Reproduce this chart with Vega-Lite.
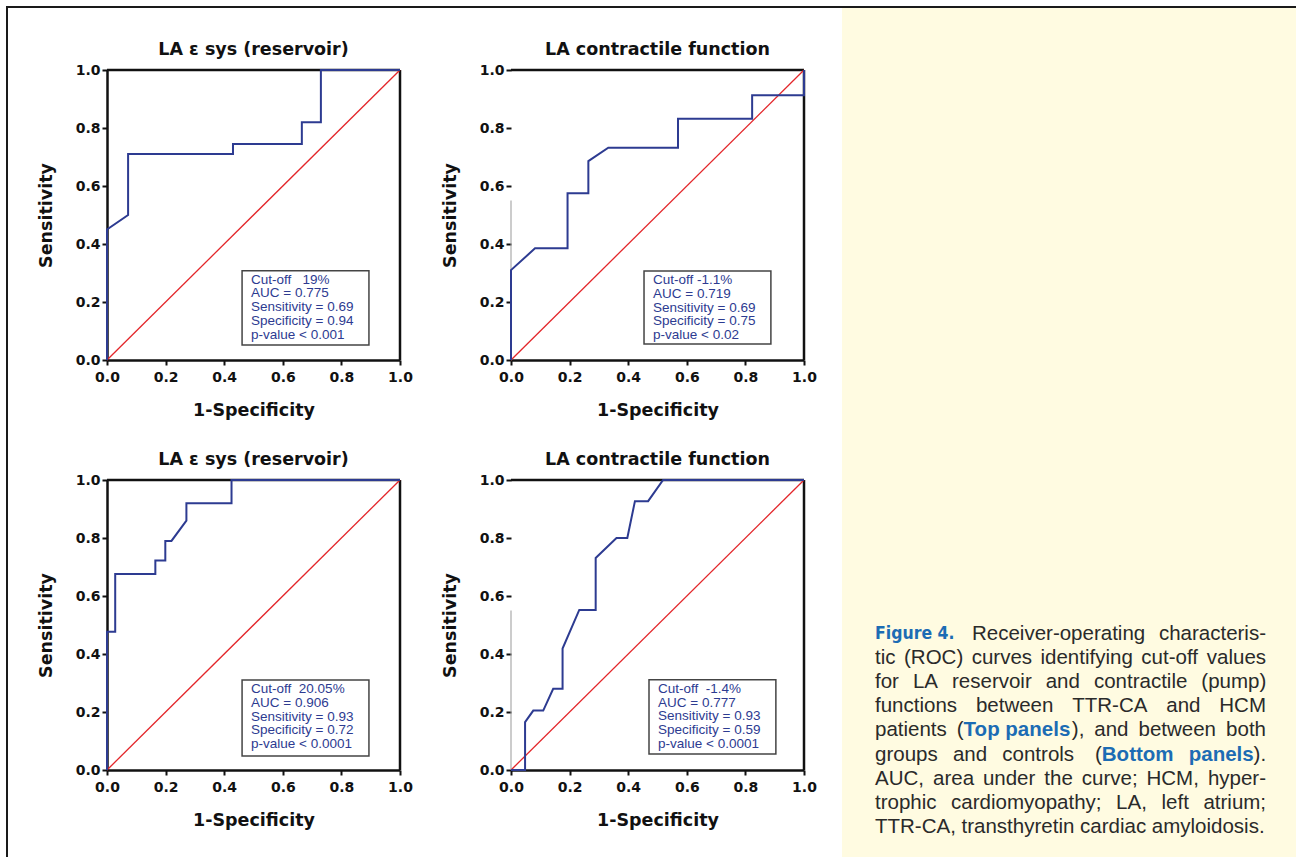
{
  "$schema": "https://vega.github.io/schema/vega-lite/v6.json",
  "padding": {"left": 6, "top": 6, "right": 0, "bottom": 0},
  "background": "white",
  "data": {"values": []},
  "datasets": {
    "roc1": [{"x":0,"y":0},{"x":0,"y":0.45},{"x":0.072,"y":0.5},{"x":0.072,"y":0.71},{"x":0.43,"y":0.71},{"x":0.43,"y":0.745},{"x":0.665,"y":0.745},{"x":0.665,"y":0.82},{"x":0.73,"y":0.82},{"x":0.73,"y":1},{"x":1,"y":1}],
    "roc2": [{"x":0,"y":0},{"x":0,"y":0.31},{"x":0.082,"y":0.385},{"x":0.193,"y":0.385},{"x":0.193,"y":0.575},{"x":0.264,"y":0.575},{"x":0.264,"y":0.686},{"x":0.332,"y":0.732},{"x":0.57,"y":0.732},{"x":0.57,"y":0.832},{"x":0.823,"y":0.832},{"x":0.823,"y":0.913},{"x":1,"y":0.913},{"x":1,"y":1}],
    "roc3": [{"x":0,"y":0},{"x":0,"y":0.477},{"x":0.028,"y":0.477},{"x":0.028,"y":0.676},{"x":0.165,"y":0.676},{"x":0.165,"y":0.722},{"x":0.199,"y":0.722},{"x":0.199,"y":0.79},{"x":0.22,"y":0.79},{"x":0.271,"y":0.86},{"x":0.271,"y":0.92},{"x":0.425,"y":0.92},{"x":0.425,"y":1},{"x":1,"y":1}],
    "roc4": [{"x":0,"y":0},{"x":0.048,"y":0},{"x":0.048,"y":0.165},{"x":0.076,"y":0.205},{"x":0.11,"y":0.205},{"x":0.144,"y":0.28},{"x":0.176,"y":0.28},{"x":0.176,"y":0.419},{"x":0.233,"y":0.552},{"x":0.289,"y":0.552},{"x":0.289,"y":0.731},{"x":0.36,"y":0.8},{"x":0.397,"y":0.8},{"x":0.423,"y":0.927},{"x":0.468,"y":0.927},{"x":0.519,"y":1},{"x":1,"y":1}],
    "caption": [
      {"line":1,"k":"fig","text":"Figure 4."},
      {"line":1,"k":"l1b","text":"Receiver-operating"},
      {"line":1,"k":"l1c","text":"characteris-"},
      {"line":2,"k":"s0","text":"tic"},
      {"line":2,"k":"l2b","text":"(ROC)"},
      {"line":2,"k":"l2c","text":"curves"},
      {"line":2,"k":"l2d","text":"identifying"},
      {"line":2,"k":"l2e","text":"cut-off"},
      {"line":2,"k":"l2f","text":"values"},
      {"line":3,"k":"s0","text":"for"},
      {"line":3,"k":"l3b","text":"LA"},
      {"line":3,"k":"l3c","text":"reservoir"},
      {"line":3,"k":"l3d","text":"and"},
      {"line":3,"k":"l3e","text":"contractile"},
      {"line":3,"k":"l3f","text":"(pump)"},
      {"line":4,"k":"s0","text":"functions"},
      {"line":4,"k":"l4b","text":"between"},
      {"line":4,"k":"l4c","text":"TTR-CA"},
      {"line":4,"k":"l4d","text":"and"},
      {"line":4,"k":"l4e","text":"HCM"},
      {"line":5,"k":"s0","text":"patients"},
      {"line":5,"k":"l5b","text":"("},
      {"line":5,"k":"l5c","text":"Top panels"},
      {"line":5,"k":"l5d","text":"),"},
      {"line":5,"k":"l5e","text":"and"},
      {"line":5,"k":"l5f","text":"between"},
      {"line":5,"k":"l5g","text":"both"},
      {"line":6,"k":"s0","text":"groups"},
      {"line":6,"k":"l6b","text":"and"},
      {"line":6,"k":"l6c","text":"controls"},
      {"line":6,"k":"l6d","text":"("},
      {"line":6,"k":"l6e","text":"Bottom"},
      {"line":6,"k":"l6f","text":"panels"},
      {"line":6,"k":"l6g","text":")."},
      {"line":7,"k":"s0","text":"AUC,"},
      {"line":7,"k":"l7b","text":"area"},
      {"line":7,"k":"l7c","text":"under"},
      {"line":7,"k":"l7d","text":"the"},
      {"line":7,"k":"l7e","text":"curve;"},
      {"line":7,"k":"l7f","text":"HCM,"},
      {"line":7,"k":"l7g","text":"hyper-"},
      {"line":8,"k":"s0","text":"trophic"},
      {"line":8,"k":"l8b","text":"cardiomyopathy;"},
      {"line":8,"k":"l8c","text":"LA,"},
      {"line":8,"k":"l8d","text":"left"},
      {"line":8,"k":"l8e","text":"atrium;"},
      {"line":9,"k":"s0","text":"TTR-CA, transthyretin cardiac amyloidosis."}
    ]
  },
  "columns": 7,
  "spacing": 0,
  "bounds": "flush",
  "align": "each",
  "concat": [
    {"width":2,"height":2,"view":{"fill":"#1a1a1a"},"mark":"text","encoding":{"text":{"value":""}}},
    {"width":99,"height":2,"view":{"fill":"#1a1a1a"},"mark":"text","encoding":{"text":{"value":""}}},
    {"width":293,"height":2,"view":{"fill":"#1a1a1a"},"mark":"text","encoding":{"text":{"value":""}}},
    {"width":111,"height":2,"view":{"fill":"#1a1a1a"},"mark":"text","encoding":{"text":{"value":""}}},
    {"width":293,"height":2,"view":{"fill":"#1a1a1a"},"mark":"text","encoding":{"text":{"value":""}}},
    {"width":38,"height":2,"view":{"fill":"#1a1a1a"},"mark":"text","encoding":{"text":{"value":""}}},
    {"width":454,"height":2,"view":{"fill":"#1a1a1a"},"mark":"text","encoding":{"text":{"value":""}}},

    {"width":2,"height":62,"view":{"fill":"#1a1a1a"},"mark":"text","encoding":{"text":{"value":""}}},
    {"width":1,"height":1,"mark":"text","encoding":{"text":{"value":""}}},
    {"width":1,"height":1,"mark":"text","encoding":{"text":{"value":""}}},
    {"width":1,"height":1,"mark":"text","encoding":{"text":{"value":""}}},
    {"width":1,"height":1,"mark":"text","encoding":{"text":{"value":""}}},
    {"width":1,"height":1,"mark":"text","encoding":{"text":{"value":""}}},
    {"width":454,"height":62,"view":{"fill":"#fffbe1"},"mark":"text","encoding":{"text":{"value":""}}},

    {"width":2,"height":290,"view":{"fill":"#1a1a1a"},"mark":"text","encoding":{"text":{"value":""}}},
    {"width":1,"height":1,"mark":"text","encoding":{"text":{"value":""}}},
    {
      "width":293,"height":290,
      "title":"LA ε sys (reservoir)",
      "data":{"name":"roc1"},
      "layer":[
        {"data":{"values":[{}]},"mark":{"type":"rule","color":"#111","strokeWidth":2.5},"encoding":{"x":{"datum":0},"x2":{"datum":1},"y":{"datum":1}}},
        {"data":{"values":[{}]},"mark":{"type":"rule","color":"#111","strokeWidth":2.5},"encoding":{"x":{"datum":1},"y":{"datum":0},"y2":{"datum":1}}},
        {"data":{"values":[{}]},"mark":{"type":"rule","color":"#e3262a","strokeWidth":1.3},"encoding":{"x":{"datum":0},"y":{"datum":0},"x2":{"datum":1},"y2":{"datum":1}}},
        {"data":{"values":[{}]},"mark":{"type":"rect","fill":"white","stroke":"#444","strokeWidth":1.5},"encoding":{"x":{"datum":0.461},"x2":{"datum":0.894},"y":{"datum":0.052},"y2":{"datum":0.308}}},
        {"data":{"values":[{}]},"mark":{"type":"text","align":"left","baseline":"top","dx":9,"dy":2,"font":"Liberation Sans","fontSize":13.5,"lineHeight":13.8,"color":"#2d3b91"},"encoding":{"x":{"datum":0.461},"y":{"datum":0.308},"text":{"value":["Cut-off\u00a0\u00a0 19%","AUC = 0.775","Sensitivity = 0.69","Specificity = 0.94","p-value < 0.001"]}}},
        {"mark":{"type":"line","color":"#2d3b91","strokeWidth":2},"encoding":{
          "x":{"field":"x","type":"quantitative","scale":{"domain":[0,1]},"axis":{"title":"1-Specificity","values":[0,0.2,0.4,0.6,0.8,1],"format":".1f"}},
          "y":{"field":"y","type":"quantitative","scale":{"domain":[0,1]},"axis":{"title":"Sensitivity","values":[0,0.2,0.4,0.6,0.8,1],"format":".1f"}},
          "order":{"value":null}}}
      ]
    },
    {"width":1,"height":1,"mark":"text","encoding":{"text":{"value":""}}},
    {
      "width":293,"height":290,
      "title":"LA contractile function",
      "data":{"name":"roc2"},
      "layer":[
        {"data":{"values":[{}]},"mark":{"type":"rule","color":"#111","strokeWidth":2.5},"encoding":{"x":{"datum":0},"x2":{"datum":1},"y":{"datum":1}}},
        {"data":{"values":[{}]},"mark":{"type":"rule","color":"#111","strokeWidth":2.5},"encoding":{"x":{"datum":1},"y":{"datum":0},"y2":{"datum":1}}},
        {"data":{"values":[{}]},"mark":{"type":"rule","color":"#999","strokeWidth":1},"encoding":{"x":{"datum":0},"y":{"datum":0},"y2":{"datum":0.55}}},
        {"data":{"values":[{}]},"mark":{"type":"rule","color":"#e3262a","strokeWidth":1.3},"encoding":{"x":{"datum":0},"y":{"datum":0},"x2":{"datum":1},"y2":{"datum":1}}},
        {"data":{"values":[{}]},"mark":{"type":"rect","fill":"white","stroke":"#444","strokeWidth":1.5},"encoding":{"x":{"datum":0.454},"x2":{"datum":0.887},"y":{"datum":0.055},"y2":{"datum":0.307}}},
        {"data":{"values":[{}]},"mark":{"type":"text","align":"left","baseline":"top","dx":9,"dy":2,"font":"Liberation Sans","fontSize":13.5,"lineHeight":13.8,"color":"#2d3b91"},"encoding":{"x":{"datum":0.454},"y":{"datum":0.307},"text":{"value":["Cut-off -1.1%","AUC = 0.719","Sensitivity = 0.69","Specificity = 0.75","p-value < 0.02"]}}},
        {"mark":{"type":"line","color":"#2d3b91","strokeWidth":2},"encoding":{
          "x":{"field":"x","type":"quantitative","scale":{"domain":[0,1]},"axis":{"title":"1-Specificity","values":[0,0.2,0.4,0.6,0.8,1],"format":".1f"}},
          "y":{"field":"y","type":"quantitative","scale":{"domain":[0,1]},"axis":{"title":"Sensitivity","values":[0,0.2,0.4,0.6,0.8,1],"format":".1f","domain":false}},
          "order":{"value":null}}}
      ]
    },
    {"width":1,"height":1,"mark":"text","encoding":{"text":{"value":""}}},
    {"width":454,"height":290,"view":{"fill":"#fffbe1"},"mark":"text","encoding":{"text":{"value":""}}},

    {"width":2,"height":120,"view":{"fill":"#1a1a1a"},"mark":"text","encoding":{"text":{"value":""}}},
    {"width":1,"height":1,"mark":"text","encoding":{"text":{"value":""}}},
    {"width":1,"height":1,"mark":"text","encoding":{"text":{"value":""}}},
    {"width":1,"height":1,"mark":"text","encoding":{"text":{"value":""}}},
    {"width":1,"height":1,"mark":"text","encoding":{"text":{"value":""}}},
    {"width":1,"height":1,"mark":"text","encoding":{"text":{"value":""}}},
    {"width":454,"height":120,"view":{"fill":"#fffbe1"},"mark":"text","encoding":{"text":{"value":""}}},

    {"width":2,"height":290,"view":{"fill":"#1a1a1a"},"mark":"text","encoding":{"text":{"value":""}}},
    {"width":1,"height":1,"mark":"text","encoding":{"text":{"value":""}}},
    {
      "width":293,"height":290,
      "title":"LA ε sys (reservoir)",
      "data":{"name":"roc3"},
      "layer":[
        {"data":{"values":[{}]},"mark":{"type":"rule","color":"#111","strokeWidth":2.5},"encoding":{"x":{"datum":0},"x2":{"datum":1},"y":{"datum":1}}},
        {"data":{"values":[{}]},"mark":{"type":"rule","color":"#111","strokeWidth":2.5},"encoding":{"x":{"datum":1},"y":{"datum":0},"y2":{"datum":1}}},
        {"data":{"values":[{}]},"mark":{"type":"rule","color":"#e3262a","strokeWidth":1.3},"encoding":{"x":{"datum":0},"y":{"datum":0},"x2":{"datum":1},"y2":{"datum":1}}},
        {"data":{"values":[{}]},"mark":{"type":"rect","fill":"white","stroke":"#444","strokeWidth":1.5},"encoding":{"x":{"datum":0.461},"x2":{"datum":0.894},"y":{"datum":0.048},"y2":{"datum":0.31}}},
        {"data":{"values":[{}]},"mark":{"type":"text","align":"left","baseline":"top","dx":9,"dy":2,"font":"Liberation Sans","fontSize":13.5,"lineHeight":13.8,"color":"#2d3b91"},"encoding":{"x":{"datum":0.461},"y":{"datum":0.31},"text":{"value":["Cut-off\u00a0 20.05%","AUC = 0.906","Sensitivity = 0.93","Specificity = 0.72","p-value < 0.0001"]}}},
        {"mark":{"type":"line","color":"#2d3b91","strokeWidth":2},"encoding":{
          "x":{"field":"x","type":"quantitative","scale":{"domain":[0,1]},"axis":{"title":"1-Specificity","values":[0,0.2,0.4,0.6,0.8,1],"format":".1f"}},
          "y":{"field":"y","type":"quantitative","scale":{"domain":[0,1]},"axis":{"title":"Sensitivity","values":[0,0.2,0.4,0.6,0.8,1],"format":".1f"}},
          "order":{"value":null}}}
      ]
    },
    {"width":1,"height":1,"mark":"text","encoding":{"text":{"value":""}}},
    {
      "width":293,"height":290,
      "title":"LA contractile function",
      "data":{"name":"roc4"},
      "layer":[
        {"data":{"values":[{}]},"mark":{"type":"rule","color":"#111","strokeWidth":2.5},"encoding":{"x":{"datum":0},"x2":{"datum":1},"y":{"datum":1}}},
        {"data":{"values":[{}]},"mark":{"type":"rule","color":"#111","strokeWidth":2.5},"encoding":{"x":{"datum":1},"y":{"datum":0},"y2":{"datum":1}}},
        {"data":{"values":[{}]},"mark":{"type":"rule","color":"#999","strokeWidth":1},"encoding":{"x":{"datum":0},"y":{"datum":0},"y2":{"datum":0.55}}},
        {"data":{"values":[{}]},"mark":{"type":"rule","color":"#e3262a","strokeWidth":1.3},"encoding":{"x":{"datum":0},"y":{"datum":0},"x2":{"datum":1},"y2":{"datum":1}}},
        {"data":{"values":[{}]},"mark":{"type":"rect","fill":"white","stroke":"#444","strokeWidth":1.5},"encoding":{"x":{"datum":0.471},"x2":{"datum":0.904},"y":{"datum":0.055},"y2":{"datum":0.311}}},
        {"data":{"values":[{}]},"mark":{"type":"text","align":"left","baseline":"top","dx":9,"dy":2,"font":"Liberation Sans","fontSize":13.5,"lineHeight":13.8,"color":"#2d3b91"},"encoding":{"x":{"datum":0.471},"y":{"datum":0.311},"text":{"value":["Cut-off\u00a0 -1.4%","AUC = 0.777","Sensitivity = 0.93","Specificity = 0.59","p-value < 0.0001"]}}},
        {"mark":{"type":"line","color":"#2d3b91","strokeWidth":2},"encoding":{
          "x":{"field":"x","type":"quantitative","scale":{"domain":[0,1]},"axis":{"title":"1-Specificity","values":[0,0.2,0.4,0.6,0.8,1],"format":".1f"}},
          "y":{"field":"y","type":"quantitative","scale":{"domain":[0,1]},"axis":{"title":"Sensitivity","values":[0,0.2,0.4,0.6,0.8,1],"format":".1f","domain":false}},
          "order":{"value":null}}}
      ]
    },
    {"width":1,"height":1,"mark":"text","encoding":{"text":{"value":""}}},
    {"width":454,"height":290,"view":{"fill":"#fffbe1"},"mark":"text","encoding":{"text":{"value":""}}},

    {"width":2,"height":87,"view":{"fill":"#1a1a1a"},"mark":"text","encoding":{"text":{"value":""}}},
    {"width":1,"height":1,"mark":"text","encoding":{"text":{"value":""}}},
    {"width":1,"height":1,"mark":"text","encoding":{"text":{"value":""}}},
    {"width":1,"height":1,"mark":"text","encoding":{"text":{"value":""}}},
    {"width":1,"height":1,"mark":"text","encoding":{"text":{"value":""}}},
    {"width":1,"height":1,"mark":"text","encoding":{"text":{"value":""}}},
    {
      "width":454,"height":87,"view":{"fill":"#fffbe1"},
      "data":{"name":"caption"},
      "encoding":{
        "x":{"datum":0,"type":"quantitative","scale":{"domain":[-0.0784,1]},"axis":null},
        "y":{"field":"line","type":"quantitative","scale":{"domain":[6.643,10.253],"reverse":true},"axis":null},
        "text":{"field":"text"}
      },
      "layer":[
        {"transform":[{"filter":"datum.k==='fig'"}],"mark":{"type":"text","font":"DejaVu Sans Condensed","fontWeight":"bold","fontSize":17.5,"color":"#1c6cb4"}},
        {"transform":[{"filter":"datum.k==='s0'"}],"mark":{"type":"text"}},
        {"transform":[{"filter":"datum.k==='l1b'"}],"mark":{"type":"text","dx":97}},
        {"transform":[{"filter":"datum.k==='l1c'"}],"mark":{"type":"text","dx":283.9}},
        {"transform":[{"filter":"datum.k==='l2b'"}],"mark":{"type":"text","dx":29}},
        {"transform":[{"filter":"datum.k==='l2c'"}],"mark":{"type":"text","dx":96.7}},
        {"transform":[{"filter":"datum.k==='l2d'"}],"mark":{"type":"text","dx":165.5}},
        {"transform":[{"filter":"datum.k==='l2e'"}],"mark":{"type":"text","dx":266.3}},
        {"transform":[{"filter":"datum.k==='l2f'"}],"mark":{"type":"text","dx":331.8}},
        {"transform":[{"filter":"datum.k==='l3b'"}],"mark":{"type":"text","dx":37.9}},
        {"transform":[{"filter":"datum.k==='l3c'"}],"mark":{"type":"text","dx":77}},
        {"transform":[{"filter":"datum.k==='l3d'"}],"mark":{"type":"text","dx":170.7}},
        {"transform":[{"filter":"datum.k==='l3e'"}],"mark":{"type":"text","dx":218.9}},
        {"transform":[{"filter":"datum.k==='l3f'"}],"mark":{"type":"text","dx":326.3}},
        {"transform":[{"filter":"datum.k==='l4b'"}],"mark":{"type":"text","dx":100.9}},
        {"transform":[{"filter":"datum.k==='l4c'"}],"mark":{"type":"text","dx":197.2}},
        {"transform":[{"filter":"datum.k==='l4d'"}],"mark":{"type":"text","dx":291.3}},
        {"transform":[{"filter":"datum.k==='l4e'"}],"mark":{"type":"text","dx":344.3}},
        {"transform":[{"filter":"datum.k==='l5b'"}],"mark":{"type":"text","dx":81.8}},
        {"transform":[{"filter":"datum.k==='l5c'"}],"mark":{"type":"text","dx":88.6,"fontWeight":"bold","color":"#1c6cb4"}},
        {"transform":[{"filter":"datum.k==='l5d'"}],"mark":{"type":"text","dx":196.8}},
        {"transform":[{"filter":"datum.k==='l5e'"}],"mark":{"type":"text","dx":219.3}},
        {"transform":[{"filter":"datum.k==='l5f'"}],"mark":{"type":"text","dx":263.5}},
        {"transform":[{"filter":"datum.k==='l5g'"}],"mark":{"type":"text","dx":351.1}},
        {"transform":[{"filter":"datum.k==='l6b'"}],"mark":{"type":"text","dx":77.9}},
        {"transform":[{"filter":"datum.k==='l6c'"}],"mark":{"type":"text","dx":127.3}},
        {"transform":[{"filter":"datum.k==='l6d'"}],"mark":{"type":"text","dx":220}},
        {"transform":[{"filter":"datum.k==='l6e'"}],"mark":{"type":"text","dx":226.8,"fontWeight":"bold","color":"#1c6cb4"}},
        {"transform":[{"filter":"datum.k==='l6f'"}],"mark":{"type":"text","dx":313.7,"fontWeight":"bold","color":"#1c6cb4"}},
        {"transform":[{"filter":"datum.k==='l6g'"}],"mark":{"type":"text","dx":378.6}},
        {"transform":[{"filter":"datum.k==='l7b'"}],"mark":{"type":"text","dx":58}},
        {"transform":[{"filter":"datum.k==='l7c'"}],"mark":{"type":"text","dx":107.9}},
        {"transform":[{"filter":"datum.k==='l7d'"}],"mark":{"type":"text","dx":169.3}},
        {"transform":[{"filter":"datum.k==='l7e'"}],"mark":{"type":"text","dx":206.8}},
        {"transform":[{"filter":"datum.k==='l7f'"}],"mark":{"type":"text","dx":271.5}},
        {"transform":[{"filter":"datum.k==='l7g'"}],"mark":{"type":"text","dx":332.9}},
        {"transform":[{"filter":"datum.k==='l8b'"}],"mark":{"type":"text","dx":76.1}},
        {"transform":[{"filter":"datum.k==='l8c'"}],"mark":{"type":"text","dx":241.1}},
        {"transform":[{"filter":"datum.k==='l8d'"}],"mark":{"type":"text","dx":286.5}},
        {"transform":[{"filter":"datum.k==='l8e'"}],"mark":{"type":"text","dx":328.4}}
      ]
    }
  ],
  "config": {
    "view": {"stroke": null},
    "text": {"font":"Liberation Sans","fontSize":20.5,"color":"#2a2a2a","align":"left","baseline":"middle"},
    "title": {"font":"DejaVu Sans","fontSize":17.5,"fontWeight":"bold","color":"#111","anchor":"middle","baseline":"bottom","offset":5},
    "axis": {
      "grid": false,
      "domainColor":"#111","domainWidth":2.5,
      "tickColor":"#111","tickWidth":2,"tickSize":5,
      "labelFont":"DejaVu Sans","labelFontWeight":"bold","labelFontSize":14,"labelColor":"#111",
      "labelFlush": false, "labelOverlap": false,
      "titleFont":"DejaVu Sans","titleFontWeight":"bold","titleFontSize":17.5,"titleColor":"#111"
    },
    "axisX": {"labelPadding":5,"titlePadding":17},
    "axisY": {"labelPadding":2,"titlePadding":20}
  }
}
